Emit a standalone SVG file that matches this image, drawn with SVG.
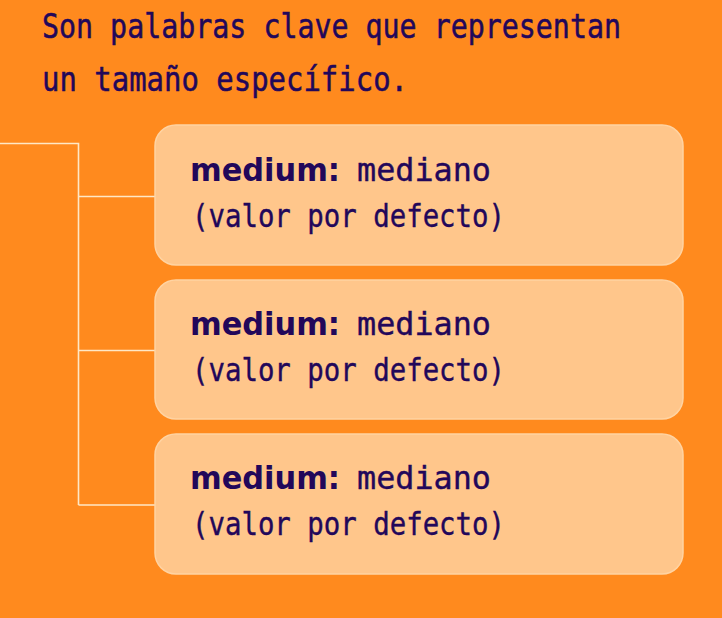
<svg xmlns="http://www.w3.org/2000/svg" width="722" height="618" viewBox="0 0 722 618">
<style>
.h{font-family:"DejaVu Sans Mono","Liberation Mono",monospace;font-size:33px;fill:#22075a;stroke:#22075a;stroke-width:0.5}
.b{font-family:"DejaVu Sans","Noto Sans",sans-serif;font-weight:bold;font-size:32px;fill:#22075a}
.t{font-family:"DejaVu Sans Mono","Liberation Mono",monospace;font-size:32px;fill:#22075a;stroke:#22075a;stroke-width:0.4}
.box{fill:#ffc68b;stroke:#ffd3a2;stroke-width:1.5}
.c{fill:none;stroke:#ffe8c6;stroke-width:1.6}
</style>
<rect width="722" height="618" fill="#ff8a1e"/>
<g id="title">
<text class="h" x="42" y="38" textLength="579" lengthAdjust="spacingAndGlyphs">Son palabras clave que representan</text>
<text class="h" x="42" y="91" textLength="366" lengthAdjust="spacingAndGlyphs">un tamaño específico.</text>
</g>
<g id="connectors">
<path class="c" d="M0 143.5H78.5V505M78.5 196.5H155M78.5 350.5H155M78.5 505H155"/>
</g>
<g id="node1">
<rect class="box" x="155" y="125" width="528" height="140" rx="21"/>
<text class="b" x="190" y="181" textLength="150" lengthAdjust="spacingAndGlyphs">medium:</text>
<text class="t" x="357" y="181" textLength="134" lengthAdjust="spacingAndGlyphs">mediano</text>
<text class="t" x="192" y="227" textLength="313" lengthAdjust="spacingAndGlyphs">(valor por defecto)</text>
</g>
<g id="node2">
<rect class="box" x="155" y="280" width="528" height="139" rx="21"/>
<text class="b" x="190" y="335" textLength="150" lengthAdjust="spacingAndGlyphs">medium:</text>
<text class="t" x="357" y="335" textLength="134" lengthAdjust="spacingAndGlyphs">mediano</text>
<text class="t" x="192" y="381" textLength="313" lengthAdjust="spacingAndGlyphs">(valor por defecto)</text>
</g>
<g id="node3">
<rect class="box" x="155" y="434" width="528" height="140" rx="21"/>
<text class="b" x="190" y="489" textLength="150" lengthAdjust="spacingAndGlyphs">medium:</text>
<text class="t" x="357" y="489" textLength="134" lengthAdjust="spacingAndGlyphs">mediano</text>
<text class="t" x="192" y="535" textLength="313" lengthAdjust="spacingAndGlyphs">(valor por defecto)</text>
</g>
</svg>
